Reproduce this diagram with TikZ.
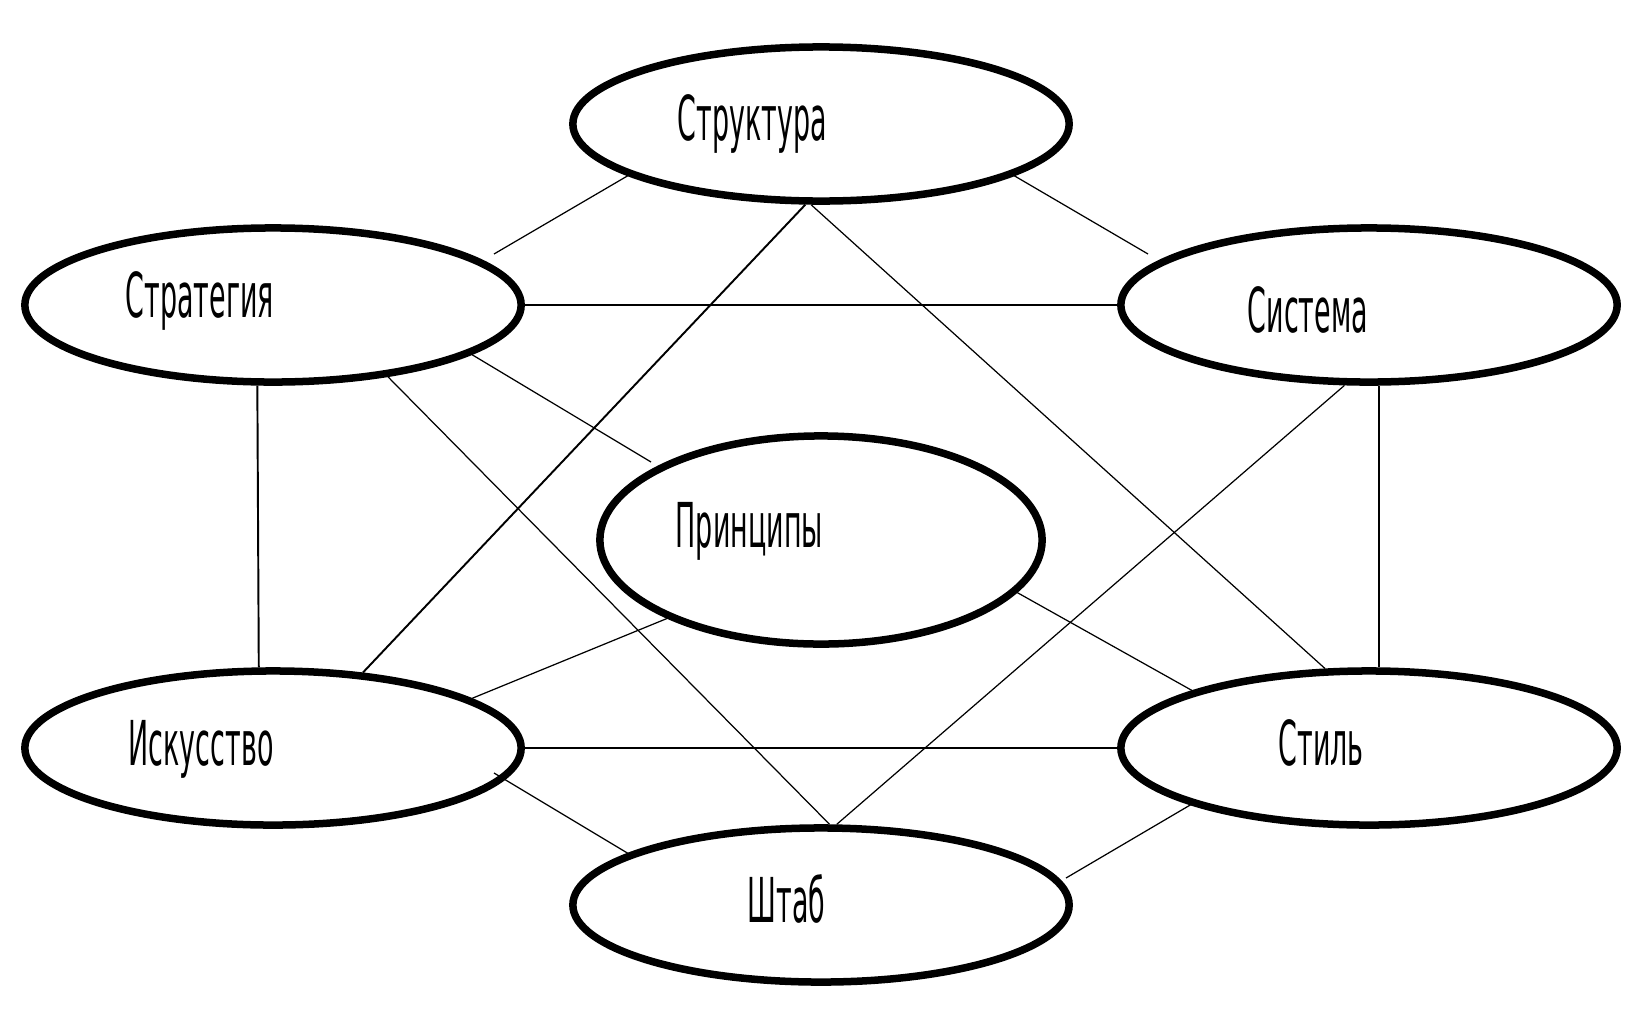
\documentclass[tikz,border=0pt]{standalone}
\usepackage{fontspec}
\usetikzlibrary{shapes.geometric,calc}
\newfontfamily\lblfont[FakeStretch=0.435]{DejaVu Sans}
\begin{document}
\begin{tikzpicture}[x=0.01cm,y=-0.01cm,
  oval/.style={draw, ellipse, line width=0.075cm, inner sep=0pt,
    minimum width=4.96cm, minimum height=1.54cm},
  lbl/.style={inner sep=0pt, anchor=base west, font=\lblfont\fontsize{17.6}{20}\selectfont},
  thinline/.style={line width=0.35pt},
  midline/.style={line width=0.55pt}]
\fill[white] (0,0) rectangle (1643,1024);
\useasboundingbox (0,0) rectangle (1643,1024);

% ellipses
\node[oval] (str) at (821,124) {};
\node[oval] (strat) at (273,305) {};
\node[oval] (sys) at (1369,305) {};
\node[oval, minimum width=4.42cm, minimum height=2.08cm] (prin) at (821,540) {};
\node[oval] (isk) at (273,748) {};
\node[oval] (stil) at (1369,748) {};
\node[oval] (shtab) at (821,905) {};

% labels
\node[lbl] (tstr) at (677,140) {Структура};
\node[lbl] (tstrat) at (125,317) {Стратегия};
\node[lbl] (tsys) at (1247,332) {Система};
\node[lbl] (tprin) at (675,547) {Принципы};
\node[lbl] (tisk) at (128,765) {Искусство};
\node[lbl] (tstil) at (1278,765) {Стиль};
\node[lbl] (tshtab) at (747,922) {Штаб};

% free ends
\coordinate (c1) at (494,254);
\coordinate (c2) at (1148,254);
\coordinate (c6) at (651,462);
\coordinate (c14) at (494,773);
\coordinate (c15a) at (1197,801);
\coordinate (c15b) at (1066,878);

% connectors
\draw[thinline] (str.195) -- (c1);
\draw[thinline] (str.345) -- (c2);
\draw[midline] (strat.east) -- (sys.west);
\draw[midline] (str.259) -- (isk.40);
\draw[thinline] (str.263) -- (stil.119.5);
\draw[thinline] (strat.346) -- (c6);
\draw[thinline] (strat.328) -- (shtab.84.4);
\draw[midline] (strat.259.5) -- (isk.100.5);
\draw[midline] (sys.277) -- (stil.83);
\draw[thinline] (sys.253.5) -- (shtab.79.5);
\draw[thinline] (prin.207) -- (isk.14.7);
\draw[thinline] (prin.345.8) -- (stil.162.7);
\draw[midline] (isk.east) -- (stil.west);
\draw[thinline] (c14) -- (shtab.165.5);
\draw[thinline] (c15a) -- (c15b);
\end{tikzpicture}
\end{document}
